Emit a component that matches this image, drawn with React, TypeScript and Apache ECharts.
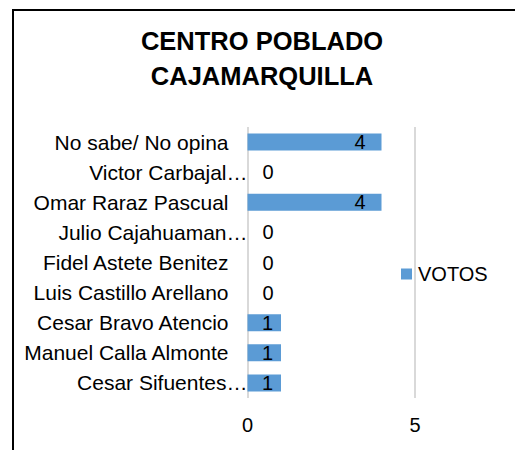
import React, { useEffect, useRef } from "react";
import * as echarts from "echarts";

const titleText = "CENTRO POBLADO\nCAJAMARQUILLA";
const seriesName = "VOTOS";
// top to bottom as displayed
const categories = [
  "No sabe/ No opina",
  "Victor Carbajal…",
  "Omar Raraz Pascual",
  "Julio Cajahuaman…",
  "Fidel Astete Benitez",
  "Luis Castillo Arellano",
  "Cesar Bravo Atencio",
  "Manuel Calla Almonte",
  "Cesar Sifuentes…",
];
const votes = [4, 0, 4, 0, 0, 0, 1, 1, 1];
const xTicks = [0, 5];

export default function App() {
  const ref = useRef<HTMLDivElement>(null);
  useEffect(() => {
    if (!ref.current) return;
    const chart = echarts.init(ref.current, undefined, { renderer: "svg" });
    const font = "Liberation Sans, Arial, sans-serif";
    const cats = categories.slice().reverse();
    const vals = votes.slice().reverse();
    const data = vals.map((v) => ({
      value: v,
      label:
        v === 0
          ? { position: "right", distance: 15 }
          : v < 2
          ? { position: "insideRight", distance: 8 }
          : { position: "insideRight", distance: 16 },
    }));
    chart.setOption({
      animation: false,
      backgroundColor: "#ffffff",
      title: {
        text: titleText,
        left: 257,
        top: 18,
        textAlign: "center",
        textStyle: {
          fontFamily: font,
          fontSize: 25.5,
          fontWeight: "bold",
          color: "#000000",
          lineHeight: 35,
        },
      },
      graphic: [
        {
          type: "rect",
          shape: { x: 13, y: 10, width: 700, height: 700 },
          style: { fill: "none", stroke: "#000000", lineWidth: 2 },
          silent: true,
        },
      ],
      legend: {
        data: [seriesName],
        left: 401,
        top: 264,
        padding: 0,
        itemWidth: 11,
        itemHeight: 11,
        itemGap: 5,
        icon: "rect",
        textStyle: { fontFamily: font, fontSize: 20, color: "#000000", padding: [0, 0, 0, 1] },
      },
      grid: { left: 247.5, right: 100, top: 127, bottom: 52, containLabel: false },
      xAxis: {
        type: "value",
        min: xTicks[0],
        max: xTicks[xTicks.length - 1],
        interval: xTicks[1] - xTicks[0],
        axisLine: { show: false },
        axisTick: { show: false },
        splitLine: { show: true, lineStyle: { color: "#d9d9d9", width: 2 } },
        axisLabel: { fontFamily: font, fontSize: 20, color: "#000000", margin: 17 },
      },
      yAxis: {
        type: "category",
        data: cats,
        axisLine: { show: false },
        axisTick: { show: false },
        splitLine: { show: false },
        axisLabel: {
          margin: 0,
          formatter: (name: string) =>
            name.endsWith("…") ? `{a|${name}}` : `{a|${name}}{p| }`,
          rich: {
            a: { fontFamily: font, fontSize: 21, color: "#000000" },
            p: { fontFamily: font, fontSize: 21, width: 19 },
          },
        },
      },
      series: [
        {
          name: seriesName,
          type: "bar",
          data,
          barWidth: 17,
          itemStyle: { color: "#5b9bd5" },
          label: {
            show: true,
            fontFamily: font,
            fontSize: 20,
            color: "#000000",
          },
        },
      ],
    });
    return () => chart.dispose();
  }, []);
  return (
    <div
      ref={ref}
      style={{ position: "fixed", left: 0, top: 0, width: 515, height: 450 }}
    />
  );
}
